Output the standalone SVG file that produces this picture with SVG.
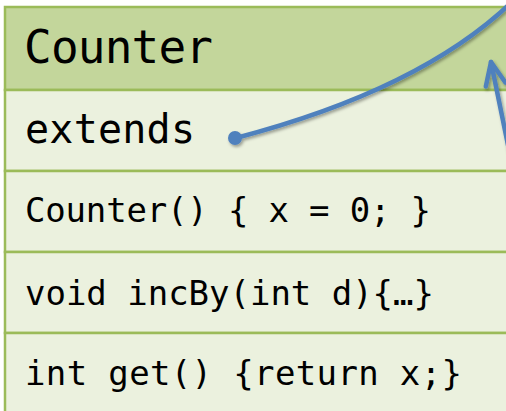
<svg xmlns="http://www.w3.org/2000/svg" width="506" height="411" viewBox="0 0 506 411">
  <defs>
    <style>
      .hdr { fill: #c3d69b; stroke: #9bbb59; stroke-width: 2.5; }
      .row { fill: #ebf1de; stroke: #9bbb59; stroke-width: 2.5; }
      .txt { font-family: "DejaVu Sans Mono", "Liberation Mono", monospace; fill: #000; }
      .conn { fill: none; stroke: #4f81bd; stroke-width: 4.5; stroke-linecap: round; }
    </style>
    <filter id="sh" x="-10%" y="-10%" width="130%" height="130%">
      <feDropShadow dx="1.5" dy="2" stdDeviation="1.5" flood-color="#000" flood-opacity="0.35"/>
    </filter>
    <marker id="open" viewBox="0 0 20 20" refX="17" refY="10" markerWidth="20" markerHeight="20" markerUnits="userSpaceOnUse" orient="auto" overflow="visible">
      <path d="M -6 0 L 17 10 L -6 20" fill="none" stroke="#4f81bd" stroke-width="4.5" stroke-linecap="round" stroke-linejoin="round"/>
    </marker>
  </defs>

  <g id="header">
    <rect class="hdr" x="5" y="7" width="520" height="83"/>
    <text class="txt" x="24" y="63" font-size="46" textLength="189">Counter</text>
  </g>
  <g id="row-extends">
    <rect class="row" x="5" y="90" width="520" height="81"/>
    <text class="txt" x="25" y="143" font-size="40" textLength="170">extends</text>
  </g>
  <g id="row-ctor">
    <rect class="row" x="5" y="171" width="520" height="81"/>
    <text class="txt" x="25" y="222" font-size="34" textLength="406">Counter() { x = 0; }</text>
  </g>
  <g id="row-incby">
    <rect class="row" x="5" y="252" width="520" height="81"/>
    <text class="txt" x="25" y="305" font-size="34" textLength="409">void incBy(int d){…}</text>
  </g>
  <g id="row-get">
    <rect class="row" x="5" y="333" width="520" height="90"/>
    <text class="txt" x="25" y="385" font-size="34" textLength="437">int get() {return x;}</text>
  </g>

  <g id="connectors" filter="url(#sh)">
    <path class="conn" d="M236,138 Q420,90 512,2"/>
    <circle cx="235" cy="138" r="7" fill="#4f81bd"/>
    <path class="conn" d="M509,150 L491,62" marker-end="url(#open)"/>
  </g>
</svg>
